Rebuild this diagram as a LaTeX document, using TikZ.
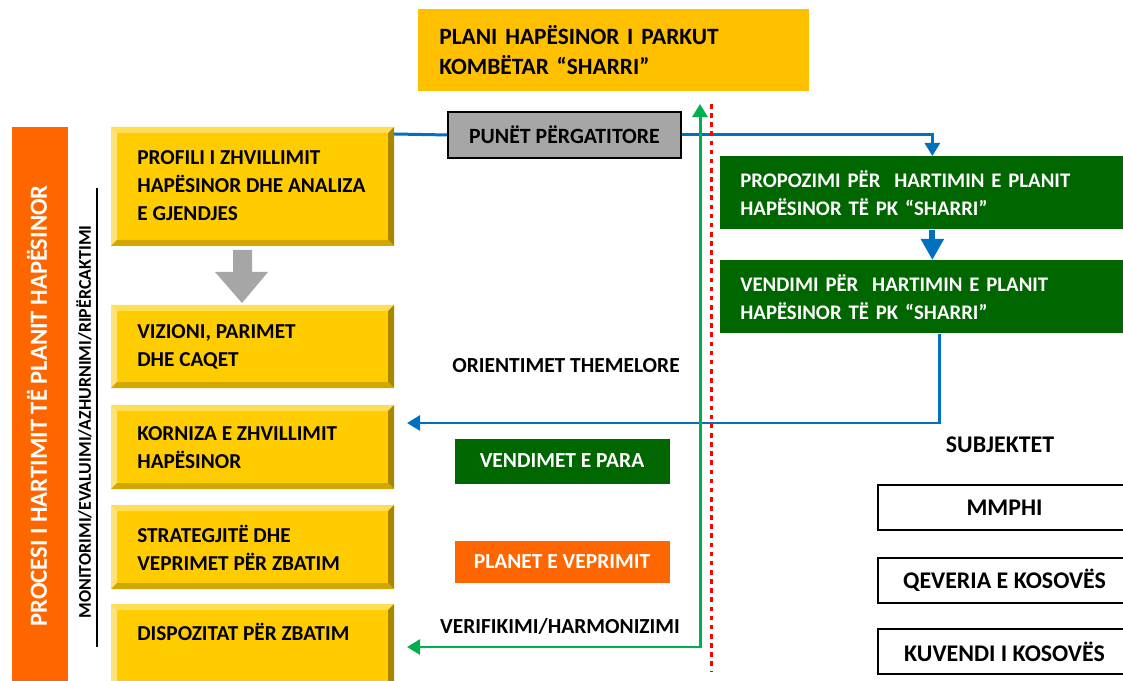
\documentclass[tikz,border=0pt]{standalone}
\usepackage{fontspec}
\setmainfont{Carlito}
\usetikzlibrary{arrows.meta}

\definecolor{barorange}{HTML}{FF6600}
\definecolor{topyellow}{HTML}{FFC000}
\definecolor{boxyellow}{HTML}{FFCC00}
\definecolor{bevlight}{HTML}{FFDD55}
\definecolor{bevside}{HTML}{FFE37A}
\definecolor{bevdark}{HTML}{A88600}
\definecolor{bevbottom}{HTML}{D2A800}
\definecolor{darkgreen}{HTML}{006600}
\definecolor{linegreen}{HTML}{00B050}
\definecolor{lineblue}{HTML}{0070C0}
\definecolor{boxgray}{HTML}{A6A6A6}

\tikzset{
    boxtext/.style={anchor=west, align=left, inner sep=0pt,
        font=\fontsize{12.1}{15.9}\selectfont\bfseries},
    greenbox/.style={anchor=north west, fill=darkgreen, text=white,
        minimum width=84.8mm, minimum height=14.6mm, inner xsep=4mm,
        text width=76.8mm, align=left,
        font=\fontsize{11.8}{15.9}\selectfont\bfseries},
    smallbox/.style={minimum width=43mm, text=white,
        font=\fontsize{12.2}{14}\selectfont\bfseries},
    subjbox/.style={anchor=north west, draw=black, line width=1.1pt,
        minimum width=50.6mm, minimum height=9mm,
        font=\fontsize{13.6}{15}\selectfont\bfseries},
    label/.style={font=\fontsize{12.2}{14}\selectfont\bfseries},
    blueline/.style={lineblue, line width=1.7pt},
    blueto/.style={blueline, -{Triangle[length=7.4pt, width=8.5pt]}},
    greenline/.style={linegreen, line width=1.7pt},
}

\begin{document}
\begin{tikzpicture}[x=0.2mm, y=-0.2mm]

\useasboundingbox (0,0) rectangle (1123,681);

% left band
\fill[barorange] (12,127) rectangle (68,700);
\node[rotate=90, text=white, font=\fontsize{14}{16}\selectfont\bfseries] (proc) at (37,406) {PROCESI I HARTIMIT TË PLANIT HAPËSINOR};
\draw[line width=1pt] (97,188) -- (97,647);
\node[rotate=90, font=\fontsize{10.2}{12}\selectfont\bfseries] (mon) at (84,422) {MONITORIMI/EVALUIMI/AZHURNIMI/RIPËRCAKTIMI};

% yellow steps
\foreach \t/\b in {127/246, 305/388, 405/489, 505/589, 604/710}
{
    \fill[boxyellow] (111,\t) rectangle (394,\b);
    \fill[bevlight] (111,\t) -- (394,\t) -- (388,\t+6) -- (117,\t+6) -- cycle;
    \fill[bevside] (111,\t) -- (117,\t+6) -- (117,\b-6) -- (111,\b) -- cycle;
    \fill[bevdark] (394,\t) -- (394,\b) -- (388,\b-6) -- (388,\t+6) -- cycle;
    \fill[bevbottom] (111,\b) -- (394,\b) -- (388,\b-6) -- (117,\b-6) -- cycle;
}

\node[boxtext] (s1) at (137,186) {PROFILI I ZHVILLIMIT\\HAPËSINOR DHE ANALIZA\\E GJENDJES};
\node[boxtext] (s2) at (137,347) {VIZIONI, PARIMET\\DHE CAQET};
\node[boxtext] (s3) at (137,448) {KORNIZA E ZHVILLIMIT\\HAPËSINOR};
\node[boxtext] (s4) at (137,548) {STRATEGJITË DHE\\VEPRIMET PËR ZBATIM};
\node[boxtext] (s5) at (137,632) {DISPOZITAT PËR ZBATIM};

% gray block arrow
\fill[boxgray] (233,250) -- (252,250) -- (252,272) -- (268,272) -- (242,303) -- (215,272) -- (233,272) -- cycle;

% top title
\node[anchor=north west, fill=topyellow, minimum width=78.2mm, minimum height=16.4mm,
    inner xsep=4.2mm, text width=69.8mm, align=left,
    font=\fontsize{13.3}{17}\selectfont\bfseries] (plan) at (418,9) {PLANI HAPËSINOR I PARKUT\\KOMBËTAR “SHARRI”};

\node[anchor=north west, fill=boxgray, draw=black, line width=1.1pt,
    minimum width=46.6mm, minimum height=9.2mm,
    font=\fontsize{12.4}{14}\selectfont\bfseries] (pun) at (447,111) {PUNËT PËRGATITORE};

\node[greenbox] (prop) at (720,156) {PROPOZIMI PËR\ \ HARTIMIN E PLANIT\\HAPËSINOR TË PK “SHARRI”};
\node[greenbox] (vend) at (720,260) {VENDIMI PËR\ \ HARTIMIN E PLANIT\\HAPËSINOR TË PK “SHARRI”};

\node[label] (ori) at (566,366) {ORIENTIMET THEMELORE};
\node[smallbox, fill=darkgreen, minimum height=9mm] (para) at (562,461) {VENDIMET E PARA};
\node[smallbox, fill=barorange, minimum height=8.4mm] (plv) at (562,562) {PLANET E VEPRIMIT};
\node[label] (ver) at (560,626) {VERIFIKIMI/HARMONIZIMI};

\node[label, font=\fontsize{13.6}{15}\selectfont\bfseries] (subj) at (1000,445) {SUBJEKTET};
\node[subjbox] (mm) at (877,484) {MMPHI};
\node[subjbox] (qev) at (877,557) {QEVERIA E KOSOVËS};
\node[subjbox] (kuv) at (877,628) {KUVENDI I KOSOVËS};

% connectors
\coordinate (b1) at (394,134);
\coordinate (k3) at (407,423);
\coordinate (k5) at (407,647);
\coordinate (gtop) at (700,104);
\coordinate (rtop) at (711,104);
\coordinate (rbot) at (711,672);

\draw[blueline] (b1) -- (pun.west);
\draw[blueto] (pun.east) -| (prop.north);
\draw[lineblue, line width=3.4pt, -{Triangle[length=12pt, width=12.5pt]}] (prop.south) -- (vend.north);
\draw[blueto] ([xshift=1.4mm]vend.south) |- (k3);
\draw[greenline, {Triangle[length=7.4pt, width=8.5pt]}-{Triangle[length=7.4pt, width=8.5pt]}] (k5) -| (gtop);
\draw[red, line width=1.7pt, dash pattern=on 2.6pt off 2.6pt] (rtop) -- (rbot);

\end{tikzpicture}
\end{document}
